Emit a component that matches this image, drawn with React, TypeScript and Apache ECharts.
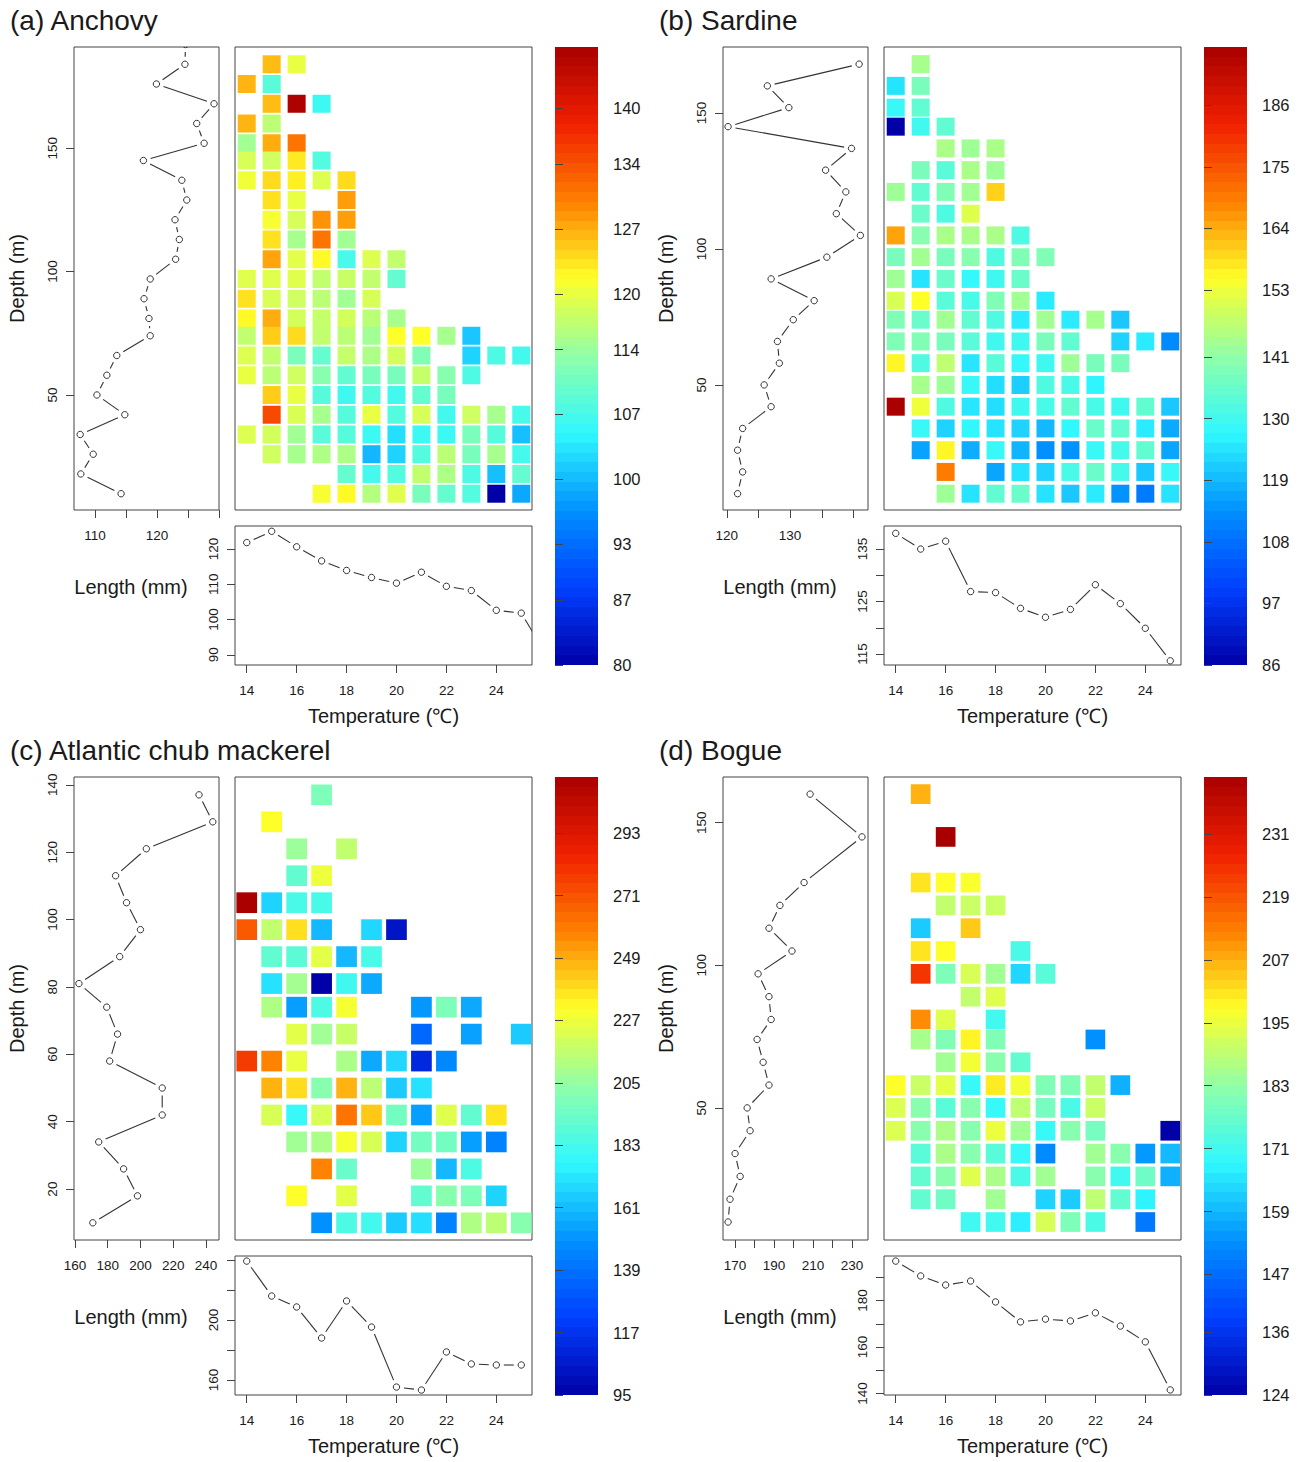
import React, { useEffect, useRef } from 'react';
import * as echarts from 'echarts';

const _ = null;
const FONT = '"Liberation Sans", Arial, sans-serif';
const INK = '#333';
const TEXT = '#1a1a1a';

// shared scales
const temperatures = [14, 15, 16, 17, 18, 19, 20, 21, 22, 23, 24, 25, 26];
const depthLevels = [10, 18, 26, 34, 42, 50, 58, 66, 74, 81, 89, 97, 105, 113, 121, 129, 137, 145, 152, 160, 168, 176, 184, 192];
const tempTicks = [14, 16, 18, 20, 22, 24];
const jet = ['#0000A8', '#0040FF', '#0090FF', '#30F8FF', '#90FFA8', '#FFFF28', '#FF8000', '#F02000', '#A80000'];
const BAR_STEPS = 64;

// (a) anchovy: rows run top (deep) to bottom (shallow), columns 14..25 degrees
const anchovyRows = [
  [_, 126, 120, _, _, _, _, _, _, _, _, _],
  [126.5, 108.6, _, _, _, _, _, _, _, _, _, _],
  [_, 126, 146, 106, _, _, _, _, _, _, _, _],
  [126.5, 116.6, _, _, _, _, _, _, _, _, _, _],
  [114.6, 127, 131, _, _, _, _, _, _, _, _, _],
  [118.6, 118, 123, 108, _, _, _, _, _, _, _, _],
  [120.6, 124, 122.6, 119, 124, _, _, _, _, _, _, _],
  [_, 123.6, 120, _, 128, _, _, _, _, _, _, _],
  [_, 121, 118.6, 128.8, 128, _, _, _, _, _, _, _],
  [_, 123.6, 115, 131, 114.6, _, _, _, _, _, _, _],
  [_, 127.6, 119.6, 122, 107, 119, 117, _, _, _, _, _],
  [119.3, 119.3, 119.3, 117, 117.6, 117, 109.5, _, _, _, _, _],
  [123.6, 118.6, 118, 116.5, 114.6, 118.6, _, _, _, _, _, _],
  [122, 127, 118.3, 117.3, 118.3, 116.5, 115, _, _, _, _, _],
  [117, 125, 124, 117, 116.5, 114.6, 121.6, 121.6, 115, 101, _, _],
  [119, 117, 111.5, 109.6, 117.3, 115.5, 118.3, 112, _, 102, 107.6, 106.6],
  [120, 116.5, 118, 112.6, 109.3, 111.3, 111.3, 117.3, 112.6, 107.6, _, _],
  [_, 125, 120, 108.3, 106.3, 108, 106.6, 109.6, 111.3, _, _, _],
  [_, 134.6, 118.8, 115, 108.3, 120, 108, 118.6, 106.6, 118, 115, 107],
  [119, 118.3, 114.6, 108.6, 108.3, 106, 103, 106, 106, 111.5, 108.3, 100.5],
  [_, 118, 115, 115.5, 115.5, 99.8, 102, 108, 116.5, 111.3, 115, 106.8],
  [_, _, _, _, 109.6, 106.8, 108, 117, 115.5, 107.6, 100.5, 109.5],
  [_, _, _, 121, 122, 116, 119.3, 111.3, 109.6, 108, 80, 98.6],
];
const anchovyByDepth = [124.6, 124.5, 119.9, 129.2, 126.4, 127.6, 117.8, 124, 124.8, 122.9, 123.6, 123, 118.9, 117.9, 118.7, 118.9, 113.5, 111.9, 110.3, 114.8, 107.6, 109.7, 107.7, 114.2];
const anchovyByTemp = [121.8, 125, 120.6, 116.6, 113.9, 111.9, 110.3, 113.4, 109.4, 108.2, 102.6, 101.8, 90];
const anchovyBarTicks = [80, 87, 93, 100, 107, 114, 120, 127, 134, 140];

// (b) sardine
const sardineRows = [
  [_, 144, _, _, _, _, _, _, _, _, _, _],
  [124.6, 138, _, _, _, _, _, _, _, _, _, _],
  [128.5, 134.6, _, _, _, _, _, _, _, _, _, _],
  [86, 130, 134.6, _, _, _, _, _, _, _, _, _],
  [_, _, 144.5, 143, 144.5, _, _, _, _, _, _, _],
  [_, 138, 133.5, 144.5, 143, _, _, _, _, _, _, _],
  [143, 134.6, 139, 143.4, 160, _, _, _, _, _, _, _],
  [_, 135.7, 131.8, 151, _, _, _, _, _, _, _, _],
  [165, 140, 144.5, 144.5, 144.5, 131.8, _, _, _, _, _, _],
  [138, 143.4, 138, 140, 132, 139, 139, _, _, _, _, _],
  [143, 124.6, 135.7, 128, 129.6, 135.7, _, _, _, _, _, _],
  [150, 155, 133.5, 131, 139, 143.4, 125.7, _, _, _, _, _],
  [139, 135.7, 143.4, 134.6, 132, 125.7, 143.4, 125.7, 144, 121, _, _],
  [139, 139, 138, 133.5, 129.6, 129.6, 138, 134.6, _, 122.4, 125.7, 112.5],
  [156, 132, 147, 125, 133.5, 128, 129.6, 143, 138, 138, _, _],
  [_, 144, 143, 128.5, 124, 122, 132, 131, 127, _, _, _],
  [196, 153, 132, 125, 124, 129.6, 131, 134.6, 131, 129.6, 134.6, 121],
  [_, 128.5, 122.4, 127.5, 124.6, 122.4, 119, 127.5, 135.7, 134.6, 125.7, 117],
  [_, 116, 156, 117.5, 128.5, 118.5, 113.6, 114, 128.5, 130.5, 134.6, 116.4],
  [_, _, 169.5, _, 116.4, 124.6, 122.4, 131, 135.7, 130.5, 121, 128.5],
  [_, _, 143, 124.6, 134.6, 135.7, 124.6, 121, 125.7, 114, 110, 124.6],
];
const sardineByDepth = [140.9, 126.4, 129.8, 120.2, 139.7, 135.6, 138.8, 137.3, 141.1, 135.8, 127, 133.8, 130.5, 128, 128.3, 125.9, 127, 122.5, 121.7, 122.5, 121.7];
const sardineByTemp = [138, 135, 136.5, 126.9, 126.7, 123.7, 122, 123.5, 128.2, 124.6, 119.9, 113.7];
const sardineBarTicks = [86, 97, 108, 119, 130, 141, 153, 164, 175, 186];

// (c) atlantic chub mackerel
const mackerelRows = [
  [_, _, _, 198.5, _, _, _, _, _, _, _, _],
  [_, 231, _, _, _, _, _, _, _, _, _, _],
  [_, _, 207, _, 216, _, _, _, _, _, _, _],
  [_, _, 191, 227, _, _, _, _, _, _, _, _],
  [312, 167, 184, 184, _, _, _, _, _, _, _, _],
  [269, 216, 238, 160, _, 168, 104, _, _, _, _, _],
  [_, 191, 189, 224.6, 160, 184, _, _, _, _, _, _],
  [_, 171, 209, 95, 181, 156, _, _, _, _, _, _],
  [_, 211.5, 153, 185, 229, _, _, 151.6, 198.5, 156, _, _],
  [_, _, 224.6, 208, 218, _, _, 136, _, 154, _, 165],
  [278, 258, 226, _, 210.4, 156, 168, 112, 147, _, _, _],
  [_, 247.5, 238.7, 201.7, 247.5, 215, 165, 171, _, _, _, _],
  [_, 221.3, 179, 221.3, 261.6, 243, 196, 153, 223.5, 191, 236.6, _],
  [_, _, 208, 210.4, 229, 221.3, 167, 196, 196, 153, 145, _],
  [_, _, _, 258, 193, _, _, 207, 160, 185, _, _],
  [_, _, 231, _, 224.6, _, _, 191, 201.7, 198.5, 167, _],
  [_, _, _, 149.5, 185, 182, 165, 170, 145, 211.5, 215, 201.7],
];
const mackerelByDepth = [235.8, 244.2, 203.6, 184.8, 191.5, 200, 187.3, 162.4, 179.4, 186, 181.2, 213.3, 213.3, 174.5, 189.7, 198.2, 170.9];
const mackerelByTemp = [239.3, 216, 208.7, 188, 212.7, 195.3, 155.3, 153.3, 178.7, 170.7, 170, 170];
const mackerelBarTicks = [95, 117, 139, 161, 183, 205, 227, 249, 271, 293];

// (d) bogue
const bogueRows = [
  [_, 206.6, _, _, _, _, _, _, _, _, _, _],
  [_, _, _, _, _, _, _, _, _, _, _, _],
  [_, _, 242, _, _, _, _, _, _, _, _, _],
  [_, _, _, _, _, _, _, _, _, _, _, _],
  [_, 200.7, 197.8, 197, _, _, _, _, _, _, _, _],
  [_, _, 189.5, 190.7, 190.7, _, _, _, _, _, _, _],
  [_, 161.8, _, 204, _, _, _, _, _, _, _, _],
  [_, 200.7, 197.8, _, _, 172.4, _, _, _, _, _, _],
  [_, 224, 180, 192.4, 185.4, 163.5, 174.7, _, _, _, _, _],
  [_, _, _, 189.5, 193.6, _, _, _, _, _, _, _],
  [_, 211, 193.6, _, 171, _, _, _, _, _, _, _],
  [_, 186, 180.6, 199, 180.6, _, _, _, 153.5, _, _, _],
  [_, _, 185.4, 196, 181.8, 176, _, _, _, _, _, _],
  [197.8, 190.7, 194, 169.4, 200, 196, 180.6, 180.6, 189.5, 158, _, _],
  [193, 181.8, 174.7, 181.8, 169.4, 189, 179, 172.4, 190.7, _, _, _],
  [193, 181.8, 186.5, 181.8, 195, 185.4, 169.4, 181.8, 179, _, _, 124],
  [_, 174.7, 186.5, 181.8, 174.7, 169.4, 152.3, _, 185.4, 181.8, 154.7, 159.4],
  [_, 176, 181.8, 193.6, 186.5, 172.4, 185.4, _, 181.8, 171, 178, 158],
  [_, 176, 178, _, 185.4, _, 163, 162, 189, 176, 167.7, _],
  [_, _, _, 170.6, 171, 167, 192.4, 180, 172.4, _, 149, _],
];
const bogueDepths = [160, 145, 129, 121, 113, 105, 97, 89, 81, 74, 66, 58, 50, 42, 34, 26, 18, 10];
const bogueByDepth = [208.5, 235.1, 205.4, 193, 187.4, 199.2, 181.8, 187.4, 188.5, 181.3, 184.4, 187.4, 176.2, 177.7, 170, 172.6, 167.4, 166.4];
const bogueByTemp = [197, 190.6, 186.7, 188.4, 179.4, 170.8, 172, 171.2, 174.7, 169, 162.2, 141.5];
const bogueBarTicks = [124, 136, 147, 159, 171, 183, 195, 207, 219, 231];

const topDown = (n: number) => depthLevels.slice(0, n).reverse();

const panels = [
  {
    title: '(a) Anchovy', x: 0, y: 0, rows: anchovyRows, cell: 18,
    profile: anchovyByDepth, profileDepths: topDown(24), byTemp: anchovyByTemp,
    depthRange: [3.4, 191], depthTicks: [50, 100, 150],
    lenRange: [106.6, 130], lenTicks: [110, 115, 120, 125, 130], lenLabels: [110, 120],
    tempLenRange: [87.1, 126.5], tempLenTicks: [90, 100, 110, 120], tempLenLabels: [90, 100, 110, 120],
    barRange: [80, 146.6], barTicks: anchovyBarTicks,
  },
  {
    title: '(b) Sardine', x: 649, y: 0, rows: sardineRows, cell: 18,
    profile: sardineByDepth, profileDepths: topDown(21), byTemp: sardineByTemp,
    depthRange: [4, 174.3], depthTicks: [50, 100, 150],
    lenRange: [119.4, 142.3], lenTicks: [120, 125, 130, 135, 140], lenLabels: [120, 130],
    tempLenRange: [112.9, 139.4], tempLenTicks: [115, 120, 125, 130, 135], tempLenLabels: [115, 125, 135],
    barRange: [86, 196.4], barTicks: sardineBarTicks,
  },
  {
    title: '(c) Atlantic chub mackerel', x: 0, y: 730, rows: mackerelRows, cell: 20.7,
    profile: mackerelByDepth, profileDepths: topDown(17), byTemp: mackerelByTemp,
    depthRange: [4.9, 142.3], depthTicks: [20, 40, 60, 80, 100, 120, 140],
    lenRange: [159.4, 248], lenTicks: [160, 180, 200, 220, 240], lenLabels: [160, 180, 200, 220, 240],
    tempLenRange: [150, 242.7], tempLenTicks: [160, 180, 200, 220, 240], tempLenLabels: [160, 200],
    barRange: [95, 312.8], barTicks: mackerelBarTicks,
  },
  {
    title: '(d) Bogue', x: 649, y: 730, rows: bogueRows, cell: 19.7,
    profile: bogueByDepth, profileDepths: bogueDepths, byTemp: bogueByTemp,
    depthRange: [3.7, 166], depthTicks: [50, 100, 150],
    lenRange: [163.8, 238.2], lenTicks: [170, 180, 190, 200, 210, 220, 230], lenLabels: [170, 190, 210, 230],
    tempLenRange: [139.3, 199.2], tempLenTicks: [140, 150, 160, 170, 180, 190], tempLenLabels: [140, 160, 180],
    barRange: [124, 241.9], barTicks: bogueBarTicks,
  },
];

// R's type="b": open circles, with segments stopped short of them
const renderProfile = (_p: any, api: any) => {
  const [cx, cy] = api.coord([api.value(0), api.value(1)]);
  const children: any[] = [];
  const nx = api.value(2);
  if (Number.isFinite(nx)) {
    const [qx, qy] = api.coord([nx, api.value(3)]);
    const len = Math.hypot(qx - cx, qy - cy);
    const gap = 7.5;
    if (len > gap * 2) {
      const ux = (qx - cx) / len;
      const uy = (qy - cy) / len;
      children.push({
        type: 'line',
        shape: { x1: cx + ux * gap, y1: cy + uy * gap, x2: qx - ux * gap, y2: qy - uy * gap },
        style: { stroke: INK, lineWidth: 1.1, fill: 'none' },
      });
    }
  }
  children.push({
    type: 'circle',
    shape: { cx, cy, r: 3.2 },
    style: { stroke: INK, lineWidth: 1, fill: '#fff' },
  });
  return { type: 'group', children };
};

const profileData = (xs: number[], ys: number[]) =>
  xs.map((x, i) => (i < xs.length - 1 ? [x, ys[i], xs[i + 1], ys[i + 1]] : [x, ys[i], _, _]));

const valueAxis = (range: number[], ticks: number[], labels: number[], extra: any = {}) => ({
  type: 'value',
  min: range[0],
  max: range[1],
  splitLine: { show: false },
  axisLine: { show: false },
  axisTick: { show: true, length: 8, customValues: ticks, lineStyle: { color: '#444', width: 1 } },
  axisLabel: { show: true, customValues: labels, color: TEXT, fontSize: 13.5, fontFamily: FONT, margin: 18 },
  ...extra,
});

const hiddenAxis = (range: number[]) => ({
  type: 'value',
  min: range[0],
  max: range[1],
  show: false,
});

const rotatedLabel = (base: any) => ({ ...base.axisLabel, rotate: 90, margin: 15 });

// the bar in the original is stepped, so every band gets a hard stop
const steppedGradient = () => {
  const stops: any[] = [];
  for (let i = 0; i < BAR_STEPS; i++) {
    const color = echarts.color.lerp((i + 0.5) / BAR_STEPS, jet);
    stops.push({ offset: i / BAR_STEPS, color }, { offset: (i + 1) / BAR_STEPS, color });
  }
  return new echarts.graphic.LinearGradient(0, 1, 0, 0, stops);
};

const buildOption = (): any => {
  const grid: any[] = [];
  const xAxis: any[] = [];
  const yAxis: any[] = [];
  const series: any[] = [];
  const visualMap: any[] = [];
  const graphic: any[] = [];
  const nameStyle = { fontSize: 20, fontFamily: FONT, color: TEXT };

  panels.forEach((p, k) => {
    const frame = { show: true, borderColor: '#444', borderWidth: 1, backgroundColor: '#fff' };
    const base = k * 4;
    const tempRange = [13.53, 25.43];

    // depth profile on the left
    grid.push({ ...frame, left: p.x + 74, top: p.y + 47, width: 145, height: 463 });
    xAxis.push(valueAxis(p.lenRange, p.lenTicks, p.lenLabels, { gridIndex: base }));
    const dy = valueAxis(p.depthRange, p.depthTicks, p.depthTicks, {
      gridIndex: base, name: 'Depth (m)', nameLocation: 'middle', nameGap: 47, nameTextStyle: nameStyle,
    });
    yAxis.push({ ...dy, axisLabel: rotatedLabel(dy) });

    // temperature by depth cells
    grid.push({ ...frame, left: p.x + 235, top: p.y + 47, width: 297, height: 463 });
    xAxis.push({ ...hiddenAxis(tempRange), gridIndex: base + 1 });
    yAxis.push({ ...hiddenAxis(p.depthRange), gridIndex: base + 1 });

    // length by temperature below
    grid.push({ ...frame, left: p.x + 235, top: p.y + 526, width: 297, height: 139 });
    xAxis.push(valueAxis(tempRange, tempTicks, tempTicks, {
      gridIndex: base + 2, name: 'Temperature (\u2103)', nameLocation: 'middle', nameGap: 41, nameTextStyle: nameStyle,
    }));
    const ly = valueAxis(p.tempLenRange, p.tempLenTicks, p.tempLenLabels, { gridIndex: base + 2 });
    yAxis.push({ ...ly, axisLabel: rotatedLabel(ly) });

    // colour bar ticks
    grid.push({ show: false, left: p.x + 555, top: p.y + 47, width: 43, height: 618 });
    xAxis.push({ ...hiddenAxis([0, 1]), gridIndex: base + 3 });
    const by = valueAxis(p.barRange, p.barTicks, p.barTicks, { gridIndex: base + 3, position: 'right' });
    yAxis.push({ ...by, axisLabel: { ...by.axisLabel, fontSize: 16.5, margin: 15 } });

    series.push({
      type: 'custom',
      xAxisIndex: base,
      yAxisIndex: base,
      clip: true,
      encode: { x: 0, y: 1 },
      renderItem: renderProfile,
      data: profileData(p.profile, p.profileDepths),
    });

    const cells: number[][] = [];
    p.rows.forEach((row, r) => {
      row.forEach((v, c) => {
        if (v !== null) cells.push([temperatures[c], depthLevels[p.rows.length - 1 - r], v]);
      });
    });
    series.push({
      type: 'custom',
      xAxisIndex: base + 1,
      yAxisIndex: base + 1,
      clip: true,
      encode: { x: 0, y: 1 },
      renderItem: (_q: any, api: any) => {
        const [cx, cy] = api.coord([api.value(0), api.value(1)]);
        return {
          type: 'rect',
          shape: { x: cx - p.cell / 2, y: cy - p.cell / 2, width: p.cell, height: p.cell },
          style: { fill: api.visual('color') },
        };
      },
      data: cells,
    });

    series.push({
      type: 'custom',
      xAxisIndex: base + 2,
      yAxisIndex: base + 2,
      clip: true,
      encode: { x: 0, y: 1 },
      renderItem: renderProfile,
      data: profileData(temperatures.slice(0, p.byTemp.length), p.byTemp),
    });

    visualMap.push({
      type: 'continuous',
      show: false,
      seriesIndex: k * 3 + 1,
      dimension: 2,
      min: p.barRange[0],
      max: p.barRange[1],
      inRange: { color: jet },
    });

    graphic.push(
      {
        type: 'rect',
        shape: { x: p.x + 555, y: p.y + 47, width: 43, height: 618 },
        style: { fill: steppedGradient() },
      },
      {
        type: 'text',
        x: p.x + 131,
        y: p.y + 587,
        style: {
          text: 'Length (mm)', font: `20px ${FONT}`, fill: TEXT,
          align: 'center', verticalAlign: 'middle',
        },
      },
    );
  });

  return {
    animation: false,
    backgroundColor: '#fff',
    title: panels.map((p) => ({
      text: p.title,
      left: p.x + 10,
      top: p.y + 6,
      padding: 0,
      textStyle: { fontSize: 28, fontWeight: 'normal', fontFamily: FONT, color: TEXT },
    })),
    grid,
    xAxis,
    yAxis,
    visualMap,
    series,
    graphic,
  };
};

const App: React.FC = () => {
  const chartRef = useRef<HTMLDivElement | null>(null);

  useEffect(() => {
    const chartInstance = echarts.init(chartRef.current!, undefined, { renderer: 'svg' });
    chartInstance.setOption(buildOption());
    return () => {
      chartInstance.dispose();
    };
  }, []);

  return <div ref={chartRef} style={{ position: 'absolute', left: 0, top: 0, width: 1303, height: 1462 }} />;
};

export default App;
